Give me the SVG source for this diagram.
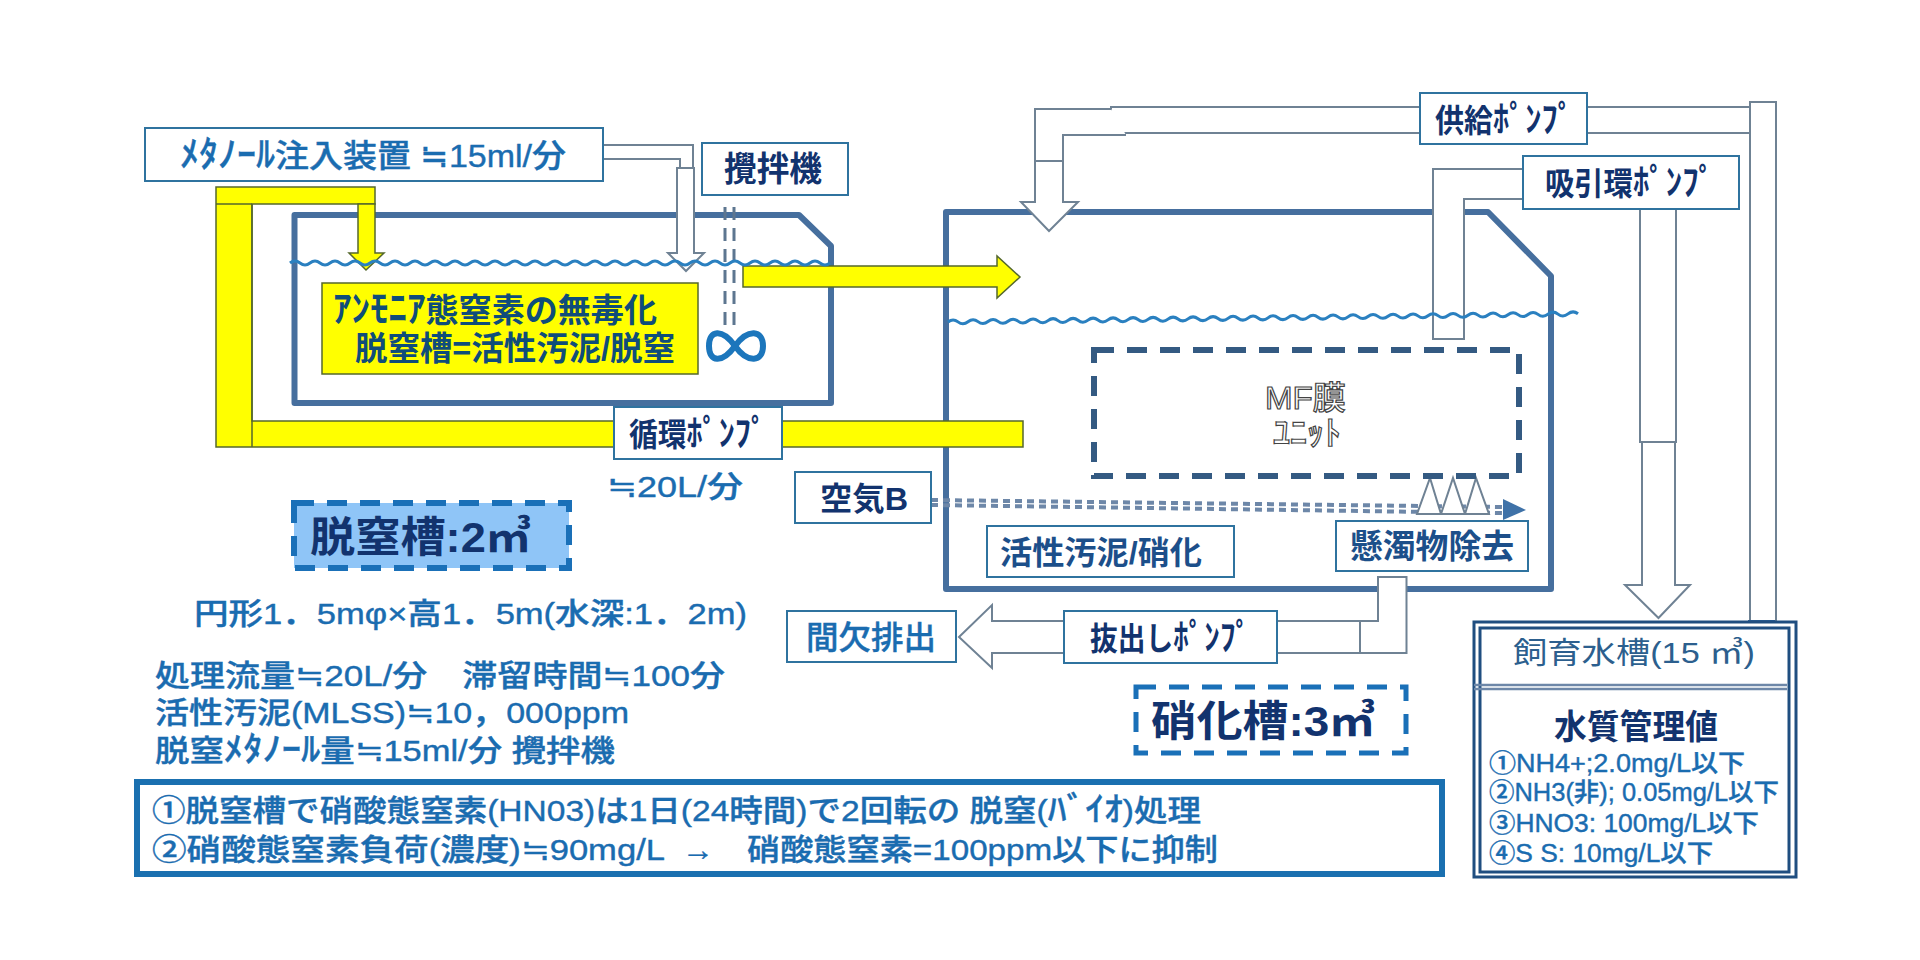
<svg xmlns="http://www.w3.org/2000/svg" width="1920" height="960" viewBox="0 0 1920 960">
<style>
text{font-family:"Liberation Sans","Noto Sans CJK JP",sans-serif;font-weight:500}
.blue{fill:#1a6cb0;stroke:#1a6cb0;stroke-width:.4}
.navy{fill:#12336e;font-weight:700}
.k{font-size:1.12em}
.box{fill:#fff;stroke:#2f739f;stroke-width:2}
.tank{fill:#fff;stroke:#466f9e;stroke-width:6;stroke-linejoin:round}
.pipe{fill:#fff;stroke:#6f8294;stroke-width:2}
.yel{fill:#ffff00;stroke:#55682c;stroke-width:1.5}
.wave{fill:none;stroke:#2a80c0;stroke-width:3}
.air{fill:none;stroke:#6d87a8;stroke-width:4;stroke-dasharray:7 5}
</style>
<rect width="1920" height="960" fill="#fff"/>
<g id="tank-denitrification"><path class="tank" d="M294.500 215H799L831 246V403H294.500Z"/></g>
<g id="tank-nitrification"><path class="tank" d="M946 212H1488L1551 276V589H946Z"/></g>
<g id="connectors">
<path class="yel" d="M216 187H375V204H252V421H614V459H782V421H1023V447H216Z"/>
<path class="yel" d="M216 204H252M252 204V447"/>
<path class="yel" d="M358 204H375V253H384L366 270L349 253H358Z"/>
<path class="yel" d="M743 266H997V256L1020 277L997 298V287H743Z"/>
<path class="pipe" d="M603 145H693V168H680V159H603Z"/>
<path class="pipe" d="M677 168H694V253H704L686 271L668 253H677Z"/>
<g stroke="#5d7690" stroke-width="3" stroke-dasharray="13 8"><path d="M725 207V327M734 207V327"/></g>
<path class="pipe" d="M1111 107H1750V133H1111Z"/>
<path class="pipe" d="M1111 109H1035V161H1063V135H1126"/>
<path class="pipe" d="M1035 161H1063V202H1078L1049 231L1021 202H1035Z"/>
<rect class="pipe" x="1750" y="102" width="26" height="523"/>
<path class="pipe" d="M1523 169H1433V339H1464V199H1523"/>
<rect class="pipe" x="1640" y="209" width="36" height="233"/>
<path class="pipe" d="M1642 442H1675V585H1690L1658.500 618L1625 585H1642Z"/>
<path class="pipe" d="M1277 621H1378V577H1406.500V653H1277Z"/>
<path class="pipe" d="M1360 621V653M1360 621H1378"/>
<path class="pipe" d="M1064 621H992V605L959 637L992 668V653H1064Z"/>
<path class="air" d="M931 500L1503 507M931 505L1503 513"/>
<path fill="#3f72a8" d="M1503 499L1526 510L1503 520Z"/>
<path class="pipe" stroke-width="1.500" d="M1417 514L1430 478L1441 514ZM1441 514L1453 478L1465 514ZM1465 514L1476 478L1489 514Z"/>
<path fill="#2a5f96" d="M1748 620H1775V626H1748Z"/>
</g>
<g id="water-lines">
<path class="wave" d="M290 263q5 -4 10 0t10 0t10 0t10 0t10 0t10 0t10 0t10 0t10 0t10 0t10 0t10 0t10 0t10 0t10 0t10 0t10 0t10 0t10 0t10 0t10 0t10 0t10 0t10 0t10 0t10 0t10 0t10 0t10 0t10 0t10 0t10 0t10 0t10 0t10 0t10 0t10 0t10 0t10 0t10 0t10 0t10 0t10 0t10 0t10 0t10 0t10 0t10 0t10 0t10 0t10 0t10 0t10 0t10 0"/>
<path class="wave" d="M948 322q5 -4 10 -.13t10 -.13t10 -.13t10 -.13t10 -.13t10 -.13t10 -.13t10 -.13t10 -.13t10 -.13t10 -.13t10 -.13t10 -.13t10 -.13t10 -.13t10 -.13t10 -.13t10 -.13t10 -.13t10 -.13t10 -.13t10 -.13t10 -.13t10 -.13t10 -.13t10 -.13t10 -.13t10 -.13t10 -.13t10 -.13t10 -.13t10 -.13t10 -.13t10 -.13t10 -.13t10 -.13t10 -.13t10 -.13t10 -.13t10 -.13t10 -.13t10 -.13t10 -.13t10 -.13t10 -.13t10 -.13t10 -.13t10 -.13t10 -.13t10 -.13t10 -.13t10 -.13t10 -.13t10 -.13t10 -.13t10 -.13t10 -.13t10 -.13t10 -.13t10 -.13t10 -.13t10 -.13t10 -.13"/>
</g>
<g id="methanol"><rect class="box" x="145" y="128" width="458" height="53"/><text class="blue" x="180" y="167" font-size="32" textLength="386" lengthAdjust="spacingAndGlyphs"><tspan class="k">ﾒﾀﾉｰﾙ</tspan>注入装置 ≒15ml/分</text></g>
<g id="stirrer"><rect class="box" x="702" y="143" width="146" height="52"/><text class="navy" x="724" y="181" font-size="34" textLength="98" lengthAdjust="spacingAndGlyphs">攪拌機</text></g>
<g id="label-ammonia"><rect class="yel" x="322" y="283" width="376" height="91"/>
<text fill="#0f4d7a" style="font-weight:700" x="333" y="322" font-size="33" textLength="324" lengthAdjust="spacingAndGlyphs"><tspan class="k">ｱﾝﾓﾆｱ</tspan>態窒素の無毒化</text>
<text fill="#0f4d7a" style="font-weight:700" x="355" y="360" font-size="33" textLength="320" lengthAdjust="spacingAndGlyphs">脱窒槽=活性汚泥/脱窒</text></g>
<g id="mixer"><path fill="none" stroke="#1c76bc" stroke-width="6" d="M735 346C722 328 709 330 709 346C709 362 722 364 735 346C748 328 763 330 763 346C763 362 748 364 735 346Z"/></g>
<g id="circ-pump"><rect class="box" x="614" y="407" width="168" height="52"/><text class="navy" x="629" y="446" font-size="32" textLength="138" lengthAdjust="spacingAndGlyphs">循環<tspan class="k">ﾎﾟﾝﾌﾟ</tspan></text></g>
<text class="blue" x="607" y="497" font-size="30" textLength="136" lengthAdjust="spacingAndGlyphs">≒20L/分</text>
<g id="supply-pump"><rect class="box" x="1420" y="93" width="167" height="51"/><text class="navy" x="1435" y="132" font-size="32" textLength="139" lengthAdjust="spacingAndGlyphs">供給<tspan class="k">ﾎﾟﾝﾌﾟ</tspan></text></g>
<g id="suction-pump"><rect class="box" x="1523" y="156" width="216" height="53"/><text class="navy" x="1545" y="195" font-size="32" textLength="170" lengthAdjust="spacingAndGlyphs">吸引環<tspan class="k">ﾎﾟﾝﾌﾟ</tspan></text></g>
<g id="mf-unit"><rect x="1094" y="350" width="425" height="126" fill="none" stroke="#345a82" stroke-width="6" stroke-dasharray="20 13"/>
<text x="1265" y="409" font-size="32" fill="#fff" stroke="#444" stroke-width="1.200" textLength="81" lengthAdjust="spacingAndGlyphs">MF膜</text>
<text x="1273" y="445" font-size="34" fill="#fff" stroke="#444" stroke-width="1.200" textLength="68" lengthAdjust="spacingAndGlyphs">ﾕﾆｯﾄ</text></g>
<g id="air-blower"><rect class="box" x="795" y="472" width="136" height="51"/><text class="navy" x="820" y="510" font-size="32" textLength="88" lengthAdjust="spacingAndGlyphs">空気B</text></g>
<g id="label-sludge"><rect class="box" x="987" y="526" width="247" height="51"/><text fill="#1c4f8a" x="1000" y="564" font-size="32" textLength="202" lengthAdjust="spacingAndGlyphs" style="font-weight:700">活性汚泥/硝化</text></g>
<g id="label-suspended"><rect class="box" x="1336" y="521" width="192" height="50"/><text fill="#1c4f8a" x="1350" y="558" font-size="33" textLength="164" lengthAdjust="spacingAndGlyphs" style="font-weight:700">懸濁物除去</text></g>
<g id="discharge"><rect class="box" x="787" y="611" width="169" height="51"/><text class="blue" x="806" y="649" font-size="32" textLength="130" lengthAdjust="spacingAndGlyphs">間欠排出</text></g>
<g id="extract-pump"><rect class="box" x="1064" y="611" width="213" height="52"/><text class="navy" x="1090" y="650" font-size="32" textLength="161" lengthAdjust="spacingAndGlyphs">抜出し<tspan class="k">ﾎﾟﾝﾌﾟ</tspan></text></g>
<g id="label-denitrification"><rect x="294" y="503" width="275" height="65" fill="#8fc5f7" stroke="#1a70b8" stroke-width="6" stroke-dasharray="20 13"/><text class="navy" x="310" y="552" font-size="42" textLength="221" lengthAdjust="spacingAndGlyphs">脱窒槽:2㎥</text></g>
<g id="label-nitrification"><rect x="1136" y="687" width="270" height="66" fill="#fff" stroke="#1a70b8" stroke-width="5" stroke-dasharray="20 13"/><text class="navy" x="1151" y="736" font-size="42" textLength="224" lengthAdjust="spacingAndGlyphs">硝化槽:3㎥</text></g>
<g id="notes">
<text class="blue" x="194" y="624" font-size="30" textLength="553" lengthAdjust="spacingAndGlyphs">円形1．5mφ×高1．5m(水深:1．2m)</text>
<text class="blue" x="155" y="686" font-size="30" textLength="570" lengthAdjust="spacingAndGlyphs">処理流量≒20L/分　滞留時間≒100分</text>
<text class="blue" x="155" y="723" font-size="30" textLength="474" lengthAdjust="spacingAndGlyphs">活性汚泥(MLSS)≒10，000ppm</text>
<text class="blue" x="155" y="761" font-size="30" textLength="460" lengthAdjust="spacingAndGlyphs">脱窒<tspan class="k">ﾒﾀﾉｰﾙ</tspan>量≒15ml/分 攪拌機</text>
</g>
<g id="summary"><rect x="137" y="782" width="1305" height="92" fill="#fff" stroke="#1a70b0" stroke-width="6"/>
<text class="blue" x="152" y="821" font-size="30" textLength="1049" lengthAdjust="spacingAndGlyphs">①脱窒槽で硝酸態窒素(HN03)は1日(24時間)で2回転の 脱窒(<tspan class="k">ﾊﾞｲｵ</tspan>)処理</text>
<text class="blue" x="152" y="860" font-size="30" textLength="513" lengthAdjust="spacingAndGlyphs">②硝酸態窒素負荷(濃度)≒90mg/L</text>
<text class="blue" x="682" y="860" font-size="30" textLength="32" lengthAdjust="spacingAndGlyphs">→</text>
<text class="blue" x="747" y="860" font-size="30" textLength="471" lengthAdjust="spacingAndGlyphs">硝酸態窒素=100ppm以下に抑制</text></g>
<g id="rearing-tank"><rect x="1474" y="622" width="322" height="255" fill="#fff" stroke="#1f4e80" stroke-width="3"/><rect x="1480" y="628" width="309" height="244" fill="none" stroke="#1f4e80" stroke-width="3"/>
<path d="M1474 685H1787M1474 689H1787" stroke="#6d87a8" stroke-width="2.500"/>
<text fill="#2c5f8e" style="font-weight:400" x="1513" y="663" font-size="30" textLength="242" lengthAdjust="spacingAndGlyphs">飼育水槽(15 ㎥)</text>
<text class="navy" x="1554" y="739" font-size="34" textLength="164" lengthAdjust="spacingAndGlyphs">水質管理値</text>
<text class="blue" x="1489" y="772" font-size="25" textLength="256" lengthAdjust="spacingAndGlyphs">①NH4+;2.0mg/L以下</text>
<text class="blue" x="1489" y="801" font-size="25" textLength="290" lengthAdjust="spacingAndGlyphs">②NH3(非); 0.05mg/L以下</text>
<text class="blue" x="1489" y="832" font-size="25" textLength="270" lengthAdjust="spacingAndGlyphs">③HNO3: 100mg/L以下</text>
<text class="blue" x="1489" y="862" font-size="25" textLength="224" lengthAdjust="spacingAndGlyphs">④S S: 10mg/L以下</text></g>
</svg>
